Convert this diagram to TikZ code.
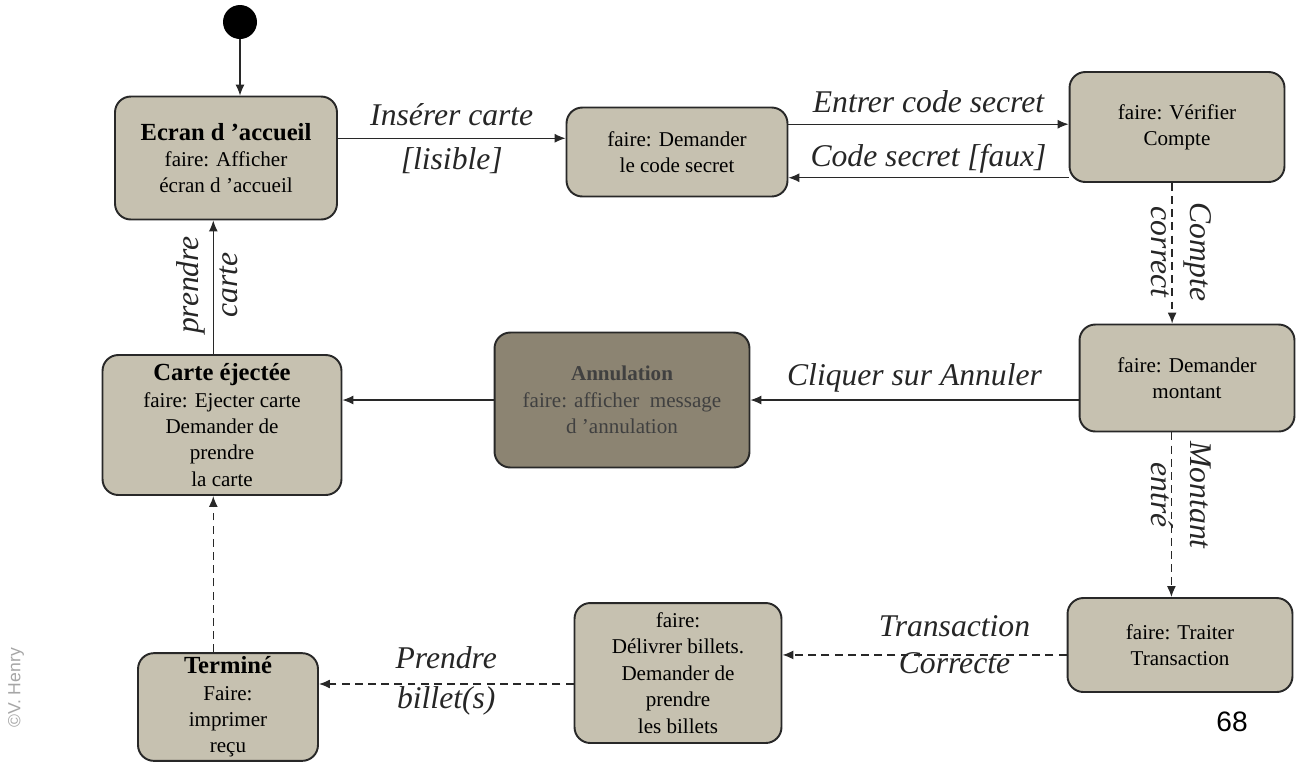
\documentclass[tikz,border=0pt]{standalone}
\usepackage{fontspec}
\setmainfont{Liberation Serif}
\newfontfamily\pagefont{Liberation Sans}
\usetikzlibrary{arrows.meta}
\definecolor{fondetat}{RGB}{198,193,176}
\definecolor{fondsombre}{RGB}{140,132,114}
\definecolor{traitgris}{RGB}{40,40,40}
\tikzset{
  etat/.style={draw=traitgris, line width=1.1pt, rounded corners=9pt, fill=fondetat,
               align=center, font=\fontsize{12}{15}\selectfont, inner sep=2pt},
  etatsombre/.style={etat, fill=fondsombre, text=black!75},
  trans/.style={-{Latex[length=2.2mm,width=1.8mm]}, semithick, draw=traitgris},
  transpt/.style={trans, thick, dash pattern=on 4.5pt off 3pt},
  lbl/.style={font=\fontsize{18}{22}\selectfont\itshape, text=black!85, align=center, inner sep=1pt},
}

\begin{document}
\begin{tikzpicture}[x=0.02cm, y=-0.02cm]
        \useasboundingbox (0,0) rectangle (1300,769);
        % etats
        \node[fill=black, circle, minimum size=0.68cm, inner sep=0pt](init) at (240,22) {};
        \node[etat, minimum width=4.44cm, minimum height=2.46cm](ecran) at (226,158)
          {{\fontsize{14}{16}\selectfont\bfseries Ecran d 'accueil}\\ faire: Afficher\\ écran d 'accueil};
        \node[etat, minimum width=4.42cm, minimum height=1.78cm](code) at (677,152)
          {faire: Demander\\ le code secret};
        \node[etat, minimum width=4.3cm, minimum height=2.2cm](verif) at (1177,127)
          {faire: Vérifier\\ Compte};
        \node[etat, minimum width=4.3cm, minimum height=2.14cm](montant) at (1187,378)
          {faire: Demander\\ montant};
        \node[etatsombre, minimum width=5.1cm, minimum height=2.7cm](annul) at (622,400)
          {{\fontsize{12}{15}\selectfont\bfseries Annulation}\\ faire: afficher\ \ message\\ d 'annulation};
        \node[etat, minimum width=4.78cm, minimum height=2.8cm](ejecte) at (222,425)
          {{\fontsize{14}{16}\selectfont\bfseries Carte éjectée}\\ faire: Ejecter carte\\ Demander de\\ prendre\\ la carte};
        \node[etat, minimum width=4.5cm, minimum height=1.88cm](traiter) at (1180,645)
          {faire: Traiter\\ Transaction};
        \node[etat, minimum width=4.14cm, minimum height=2.8cm](delivrer) at (678,673)
          {faire:\\ Délivrer billets.\\ Demander de\\ prendre\\ les billets};
        \node[etat, minimum width=3.6cm, minimum height=2.1cm](termine) at (228,707)
          {{\fontsize{14}{16}\selectfont\bfseries Terminé}\\ Faire:\\ imprimer\\ reçu};
        % transitions
        \draw[trans](init) -- (init |- ecran.north);
        \draw[trans](ecran.10) -- (ecran.10 -| code.west)
          node[lbl, midway, above=6pt]{Insérer carte} node[lbl, midway, below=4pt]{[lisible]};
        \draw[trans](code.14) -- (code.14 -| verif.west)
          node[lbl, midway, above=5pt]{Entrer code secret};
        \draw[trans](code.-13 -| verif.west) -- (code.-13)
          node[lbl, midway, above=1pt]{Code secret [faux]};
        \draw[transpt](verif.-95) -- (verif.-95 |- montant.north);
        \node[lbl, rotate=-90](lblcompte) at (1181,252) {Compte\\ correct};
        \draw[trans](montant.west |- annul.east) -- (annul.east)
          node[lbl, midway, above=3pt]{Cliquer sur Annuler};
        \draw[trans](annul.west) -- (annul.west -| ejecte.east);
        \draw[trans](ejecte.97) -- (ejecte.97 |- ecran.south);
        \node[lbl, rotate=90](lblprendre) at (207,285) {prendre\\ carte};
        \draw[transpt](montant.-106) -- (montant.-106 |- traiter.north);
        \node[lbl, rotate=-90](lblmontant) at (1181,495) {Montant\\ entré};
        \draw[transpt](traiter.185) -- (traiter.185 -| delivrer.east)
          node[lbl, midway, above=9pt, xshift=0.6cm]{Transaction}
          node[lbl, midway, below=-3pt, xshift=0.6cm]{Correcte};
        \draw[transpt](delivrer.186) -- (delivrer.186 -| termine.east)
          node[lbl, midway, above=7pt]{Prendre} node[lbl, midway, below=0pt]{billet(s)};
        \draw[transpt](ejecte.-97 |- termine.north) -- (ejecte.-97);
        % page
        \node[font=\pagefont\fontsize{16}{16}\selectfont](page) at (1232,722) {68};
        \node[rotate=90, font=\pagefont\fontsize{10}{10}\selectfont, text=black!35](marque) at (16,688) {©V. Henry};
      \end{tikzpicture}
\end{document}
